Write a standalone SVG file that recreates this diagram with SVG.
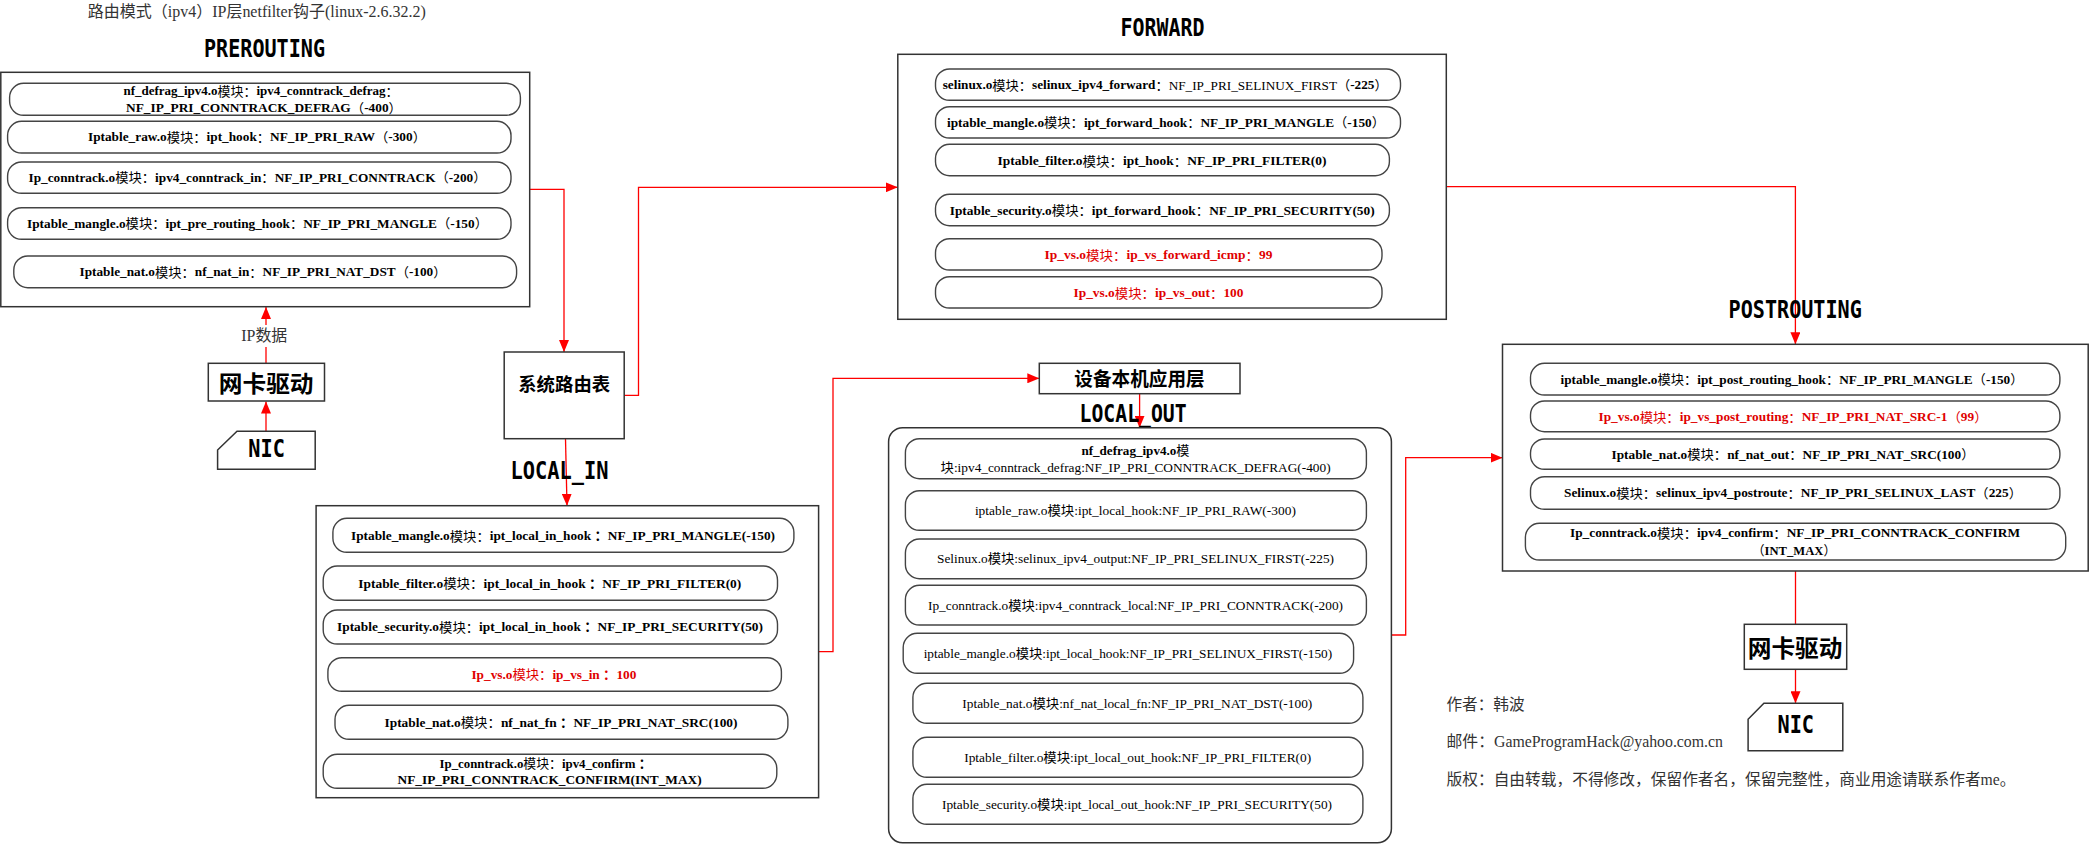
<svg xmlns="http://www.w3.org/2000/svg" width="2089" height="844" viewBox="0 0 2089 844">
<style>
.box{fill:#fff;stroke:#333;stroke-width:1.5}
.pill{fill:#fff;stroke:#444;stroke-width:1.4}
.t{font-family:"Liberation Serif","Noto Sans CJK SC",serif;font-size:13px;font-weight:bold;fill:#000;text-anchor:middle;dominant-baseline:central}
.rg{font-weight:normal}
.o{font-weight:normal}
.red{fill:#e00000}
.h{font-family:"DejaVu Sans Mono","Liberation Mono",monospace;font-weight:bold;font-size:25px;fill:#000}
.cn{font-family:"Noto Sans CJK SC",sans-serif;font-weight:bold;fill:#000;text-anchor:middle;dominant-baseline:central}
.note{font-family:"Liberation Serif","Noto Sans CJK SC",serif;font-size:16px;fill:#333;dominant-baseline:central}
.wire{fill:none;stroke:#f00;stroke-width:1.3}
</style>
<defs>
<marker id="arr" markerUnits="userSpaceOnUse" markerWidth="12" markerHeight="10" viewBox="0 0 12 10" refX="12" refY="5" orient="auto">
<path d="M0,0 L12,5 L0,10 Z" fill="#f00"/>
</marker>
</defs>
<rect width="2089" height="844" fill="#fff"/>

<text class="note" x="87.8" y="11" textLength="338" lengthAdjust="spacingAndGlyphs">路由模式（ipv4）IP层netfilter钩子(linux-2.6.32.2)</text>

<g id="connectors">
<path class="wire" d="M266,363 L266,347"/>
<path class="wire" d="M266,325 L266,307" marker-end="url(#arr)"/>
<path class="wire" d="M266,431 L266,401.5" marker-end="url(#arr)"/>
<path class="wire" d="M530,189.3 H564 V352" marker-end="url(#arr)"/>
<path class="wire" d="M624.2,395.3 H638.5 V187.3 H897.8" marker-end="url(#arr)"/>
<path class="wire" d="M565.5,438.7 L567,505.7" marker-end="url(#arr)"/>
<path class="wire" d="M818.6,651.7 H833 V378.3 H1039.3" marker-end="url(#arr)"/>
<path class="wire" d="M1139.6,393.7 V427.7" marker-end="url(#arr)"/>
<path class="wire" d="M1391.4,635 H1405.7 V457.7 H1502.5" marker-end="url(#arr)"/>
<path class="wire" d="M1446.3,186.7 H1795.4 V344.3" marker-end="url(#arr)"/>
<path class="wire" d="M1795.5,571 V624.3"/>
<path class="wire" d="M1795.5,669.3 V703.3" marker-end="url(#arr)"/>
<text class="note" x="264.3" y="335.7" text-anchor="middle" font-size="15" textLength="46" lengthAdjust="spacingAndGlyphs">IP数据</text>
</g>

<g id="prerouting">
<text class="h" x="204" y="57" textLength="121" lengthAdjust="spacingAndGlyphs">PREROUTING</text>
<rect class="box" x="0.8" y="72.3" width="528.9" height="234.4"/>
<rect class="pill" x="9.6" y="83.3" width="510.8" height="32" rx="14"/>
<text class="t" x="261" y="90.7" textLength="275" lengthAdjust="spacingAndGlyphs">nf_defrag_ipv4.o<tspan class="rg">模块：</tspan>ipv4_conntrack_defrag<tspan class="rg">：</tspan></text>
<text class="t" x="264" y="107.7" textLength="276" lengthAdjust="spacingAndGlyphs">NF_IP_PRI_CONNTRACK_DEFRAG<tspan class="rg">（</tspan>-400<tspan class="rg">）</tspan></text>
<rect class="pill" x="7.6" y="121.3" width="503.4" height="31.7" rx="14"/>
<text class="t" x="257" y="136.7" textLength="338" lengthAdjust="spacingAndGlyphs">Iptable_raw.o<tspan class="rg">模块：</tspan>ipt_hook<tspan class="rg">：</tspan>NF_IP_PRI_RAW<tspan class="rg">（</tspan>-300<tspan class="rg">）</tspan></text>
<rect class="pill" x="7.6" y="162" width="503.4" height="31.3" rx="14"/>
<text class="t" x="257.5" y="177.3" textLength="458" lengthAdjust="spacingAndGlyphs">Ip_conntrack.o<tspan class="rg">模块：</tspan>ipv4_conntrack_in<tspan class="rg">：</tspan>NF_IP_PRI_CONNTRACK<tspan class="rg">（</tspan>-200<tspan class="rg">）</tspan></text>
<rect class="pill" x="7.6" y="207.7" width="503.4" height="31.6" rx="14"/>
<text class="t" x="257.5" y="223.3" textLength="461" lengthAdjust="spacingAndGlyphs">Iptable_mangle.o<tspan class="rg">模块：</tspan>ipt_pre_routing_hook<tspan class="rg">：</tspan>NF_IP_PRI_MANGLE<tspan class="rg">（</tspan>-150<tspan class="rg">）</tspan></text>
<rect class="pill" x="13.8" y="256" width="502.8" height="31.7" rx="14"/>
<text class="t" x="263" y="271.7" textLength="367" lengthAdjust="spacingAndGlyphs">Iptable_nat.o<tspan class="rg">模块：</tspan>nf_nat_in<tspan class="rg">：</tspan>NF_IP_PRI_NAT_DST<tspan class="rg">（</tspan>-100<tspan class="rg">）</tspan></text>
</g>

<g id="nic-driver-in">
<rect class="box" x="208.3" y="363.3" width="116.2" height="37.7"/>
<text class="cn" x="266.2" y="381.7" font-size="23" textLength="94.7" lengthAdjust="spacingAndGlyphs">网卡驱动</text>
</g>
<g id="nic-in">
<path class="box" d="M217.6,450 L237,431.3 L315.2,431.3 L315.2,469.3 L217.6,469.3 Z"/>
<text class="h" x="248.3" y="456.7" font-size="21" textLength="36.5" lengthAdjust="spacingAndGlyphs">NIC</text>
</g>

<g id="routing-table">
<rect class="box" x="504.2" y="352" width="120" height="86.7"/>
<text class="cn" x="564.2" y="382.7" font-size="18.5" textLength="92" lengthAdjust="spacingAndGlyphs">系统路由表</text>
</g>

<g id="forward">
<text class="h" x="1120.4" y="36" textLength="84" lengthAdjust="spacingAndGlyphs">FORWARD</text>
<rect class="box" x="897.8" y="54.3" width="548.5" height="265"/>
<rect class="pill" x="935.5" y="69" width="465" height="31.3" rx="14"/>
<text class="t" x="1165.2" y="84.7" textLength="445" lengthAdjust="spacingAndGlyphs">selinux.o<tspan class="rg">模块：</tspan>selinux_ipv4_forward<tspan class="rg">：NF_IP_PRI_SELINUX_FIRST（</tspan>-225<tspan class="rg">）</tspan></text>
<rect class="pill" x="935.5" y="106.7" width="465" height="31.3" rx="14"/>
<text class="t" x="1166" y="122.3" textLength="438" lengthAdjust="spacingAndGlyphs">iptable_mangle.o<tspan class="rg">模块：</tspan>ipt_forward_hook<tspan class="rg">：</tspan>NF_IP_PRI_MANGLE<tspan class="rg">（</tspan>-150<tspan class="rg">）</tspan></text>
<rect class="pill" x="935.5" y="144.3" width="453.9" height="31.4" rx="14"/>
<text class="t" x="1162" y="160.7" textLength="329" lengthAdjust="spacingAndGlyphs">Iptable_filter.o<tspan class="rg">模块：</tspan>ipt_hook<tspan class="rg">：</tspan>NF_IP_PRI_FILTER(0)</text>
<rect class="pill" x="935.5" y="194.3" width="453.9" height="31.4" rx="14"/>
<text class="t" x="1162.2" y="210" textLength="425" lengthAdjust="spacingAndGlyphs">Iptable_security.o<tspan class="rg">模块：</tspan>ipt_forward_hook<tspan class="rg">：</tspan>NF_IP_PRI_SECURITY(50)</text>
<rect class="pill" x="935.5" y="238.7" width="446.5" height="31.3" rx="14"/>
<text class="t red" x="1158.5" y="254.7" textLength="228" lengthAdjust="spacingAndGlyphs">Ip_vs.o<tspan class="rg">模块：</tspan>ip_vs_forward_icmp<tspan class="rg">：</tspan>99</text>
<rect class="pill" x="935.5" y="276.7" width="446.5" height="31.3" rx="14"/>
<text class="t red" x="1158.5" y="292.7" textLength="170" lengthAdjust="spacingAndGlyphs">Ip_vs.o<tspan class="rg">模块：</tspan>ip_vs_out<tspan class="rg">：</tspan>100</text>
</g>

<g id="local-in">
<text class="h" x="510.5" y="479" textLength="98" lengthAdjust="spacingAndGlyphs">LOCAL_IN</text>
<rect class="box" x="316.1" y="505.7" width="502.5" height="292"/>
<rect class="pill" x="332.9" y="518.3" width="461" height="34" rx="14"/>
<text class="t" x="563" y="535.7" textLength="424" lengthAdjust="spacingAndGlyphs">Iptable_mangle.o<tspan class="rg">模块：</tspan>ipt_local_in_hook ：NF_IP_PRI_MANGLE(-150)</text>
<rect class="pill" x="323.2" y="566" width="454.3" height="34.3" rx="14"/>
<text class="t" x="549.8" y="583.3" textLength="383" lengthAdjust="spacingAndGlyphs">Iptable_filter.o<tspan class="rg">模块：</tspan>ipt_local_in_hook ：NF_IP_PRI_FILTER(0)</text>
<rect class="pill" x="323.2" y="610" width="454.3" height="34" rx="14"/>
<text class="t" x="550" y="626.7" textLength="426" lengthAdjust="spacingAndGlyphs">Iptable_security.o<tspan class="rg">模块：</tspan>ipt_local_in_hook ：NF_IP_PRI_SECURITY(50)</text>
<rect class="pill" x="327.9" y="657.7" width="453.5" height="33.6" rx="14"/>
<text class="t red" x="553.9" y="674" textLength="165" lengthAdjust="spacingAndGlyphs">Ip_vs.o<tspan class="rg">模块：</tspan>ip_vs_in ：100</text>
<rect class="pill" x="335" y="705.3" width="452.9" height="34" rx="14"/>
<text class="t" x="561" y="722.3" textLength="353" lengthAdjust="spacingAndGlyphs">Iptable_nat.o<tspan class="rg">模块：</tspan>nf_nat_fn ：NF_IP_PRI_NAT_SRC(100)</text>
<rect class="pill" x="323.2" y="754.3" width="453.6" height="34" rx="14"/>
<text class="t" x="545.5" y="763.3" textLength="212" lengthAdjust="spacingAndGlyphs">Ip_conntrack.o<tspan class="rg">模块：</tspan>ipv4_confirm ：</text>
<text class="t" x="549.6" y="779.3" textLength="304" lengthAdjust="spacingAndGlyphs">NF_IP_PRI_CONNTRACK_CONFIRM(INT_MAX)</text>
</g>

<g id="local-app">
<rect class="box" x="1039.3" y="363.3" width="200.7" height="30.4"/>
<text class="cn" x="1139.5" y="377.3" font-size="19" textLength="130.3" lengthAdjust="spacingAndGlyphs">设备本机应用层</text>
</g>

<g id="local-out">
<text class="h" x="1079.6" y="422" textLength="107" lengthAdjust="spacingAndGlyphs">LOCAL_OUT</text>
<rect class="box" x="888.6" y="427.7" width="502.8" height="415" rx="14"/>
<rect class="pill" x="905.4" y="438.7" width="461" height="40" rx="14"/>
<text class="t" x="1135.4" y="450" textLength="108" lengthAdjust="spacingAndGlyphs">nf_defrag_ipv4.o<tspan class="rg">模</tspan></text>
<text class="t o" x="1135.6" y="467.3" textLength="390" lengthAdjust="spacingAndGlyphs">块:ipv4_conntrack_defrag:NF_IP_PRI_CONNTRACK_DEFRAG(-400)</text>
<rect class="pill" x="905.4" y="490.7" width="461" height="39.6" rx="14"/>
<text class="t o" x="1135.4" y="510.7" textLength="321" lengthAdjust="spacingAndGlyphs">iptable_raw.o模块:ipt_local_hook:NF_IP_PRI_RAW(-300)</text>
<rect class="pill" x="905.4" y="539" width="461" height="39.7" rx="14"/>
<text class="t o" x="1135.5" y="558.7" textLength="397" lengthAdjust="spacingAndGlyphs">Selinux.o模块:selinux_ipv4_output:NF_IP_PRI_SELINUX_FIRST(-225)</text>
<rect class="pill" x="905.4" y="585.3" width="461" height="39.7" rx="14"/>
<text class="t o" x="1135.5" y="605" textLength="415" lengthAdjust="spacingAndGlyphs">Ip_conntrack.o模块:ipv4_conntrack_local:NF_IP_PRI_CONNTRACK(-200)</text>
<rect class="pill" x="903.2" y="633.3" width="450.4" height="40" rx="14"/>
<text class="t o" x="1127.9" y="653.3" textLength="408.5" lengthAdjust="spacingAndGlyphs">iptable_mangle.o模块:ipt_local_hook:NF_IP_PRI_SELINUX_FIRST(-150)</text>
<rect class="pill" x="912.9" y="683.3" width="450" height="40" rx="14"/>
<text class="t o" x="1137.3" y="703.3" textLength="350" lengthAdjust="spacingAndGlyphs">Iptable_nat.o模块:nf_nat_local_fn:NF_IP_PRI_NAT_DST(-100)</text>
<rect class="pill" x="912.9" y="737.3" width="450" height="40" rx="14"/>
<text class="t o" x="1137.7" y="757.3" textLength="347" lengthAdjust="spacingAndGlyphs">Iptable_filter.o模块:ipt_local_out_hook:NF_IP_PRI_FILTER(0)</text>
<rect class="pill" x="912.9" y="784.3" width="450" height="40" rx="14"/>
<text class="t o" x="1137" y="804.3" textLength="390" lengthAdjust="spacingAndGlyphs">Iptable_security.o模块:ipt_local_out_hook:NF_IP_PRI_SECURITY(50)</text>
</g>

<g id="postrouting">
<text class="h" x="1728.6" y="318.3" textLength="133.2" lengthAdjust="spacingAndGlyphs">POSTROUTING</text>
<rect class="box" x="1502.5" y="344.3" width="585.7" height="226.7"/>
<rect class="pill" x="1530.5" y="363.3" width="529.4" height="31.7" rx="14"/>
<text class="t" x="1792" y="379" textLength="463" lengthAdjust="spacingAndGlyphs">iptable_mangle.o<tspan class="rg">模块：</tspan>ipt_post_routing_hook<tspan class="rg">：</tspan>NF_IP_PRI_MANGLE<tspan class="rg">（</tspan>-150<tspan class="rg">）</tspan></text>
<rect class="pill" x="1530.5" y="401" width="529.4" height="30.7" rx="14"/>
<text class="t red" x="1793" y="416.7" textLength="389" lengthAdjust="spacingAndGlyphs">Ip_vs.o<tspan class="rg">模块：</tspan>ip_vs_post_routing<tspan class="rg">：</tspan>NF_IP_PRI_NAT_SRC-1<tspan class="rg">（</tspan>99<tspan class="rg">）</tspan></text>
<rect class="pill" x="1530.5" y="439" width="529.4" height="30.3" rx="14"/>
<text class="t" x="1793" y="454" textLength="363" lengthAdjust="spacingAndGlyphs">Iptable_nat.o<tspan class="rg">模块：</tspan>nf_nat_out<tspan class="rg">：</tspan>NF_IP_PRI_NAT_SRC(100<tspan class="rg">）</tspan></text>
<rect class="pill" x="1530.5" y="476.7" width="529.4" height="32.6" rx="14"/>
<text class="t" x="1793" y="492.7" textLength="458" lengthAdjust="spacingAndGlyphs">Selinux.o<tspan class="rg">模块：</tspan>selinux_ipv4_postroute<tspan class="rg">：</tspan>NF_IP_PRI_SELINUX_LAST<tspan class="rg">（</tspan>225<tspan class="rg">）</tspan></text>
<rect class="pill" x="1525.4" y="523.3" width="540.3" height="36.7" rx="14"/>
<text class="t" x="1795" y="532.7" textLength="450" lengthAdjust="spacingAndGlyphs">Ip_conntrack.o<tspan class="rg">模块：</tspan>ipv4_confirm<tspan class="rg">：</tspan>NF_IP_PRI_CONNTRACK_CONFIRM</text>
<text class="t" x="1794" y="550" textLength="84" lengthAdjust="spacingAndGlyphs"><tspan class="rg">（</tspan>INT_MAX<tspan class="rg">）</tspan></text>
</g>

<g id="nic-driver-out">
<rect class="box" x="1744.3" y="624.3" width="102.4" height="45"/>
<text class="cn" x="1795.1" y="646" font-size="24" textLength="94.7" lengthAdjust="spacingAndGlyphs">网卡驱动</text>
</g>
<g id="nic-out">
<path class="box" d="M1748.1,719.3 L1763.9,703.3 L1842.8,703.3 L1842.8,750.7 L1748.1,750.7 Z"/>
<text class="h" x="1777.5" y="733.3" font-size="23" textLength="36.5" lengthAdjust="spacingAndGlyphs">NIC</text>
</g>

<g id="author">
<text class="note" x="1446.5" y="704" textLength="78" lengthAdjust="spacingAndGlyphs">作者：韩波</text>
<text class="note" x="1446.5" y="741.7" textLength="276.5" lengthAdjust="spacingAndGlyphs">邮件：GameProgramHack@yahoo.com.cn</text>
<text class="note" x="1446.5" y="779.3" textLength="569" lengthAdjust="spacingAndGlyphs">版权：自由转载，不得修改，保留作者名，保留完整性，商业用途请联系作者me。</text>
</g>
</svg>
